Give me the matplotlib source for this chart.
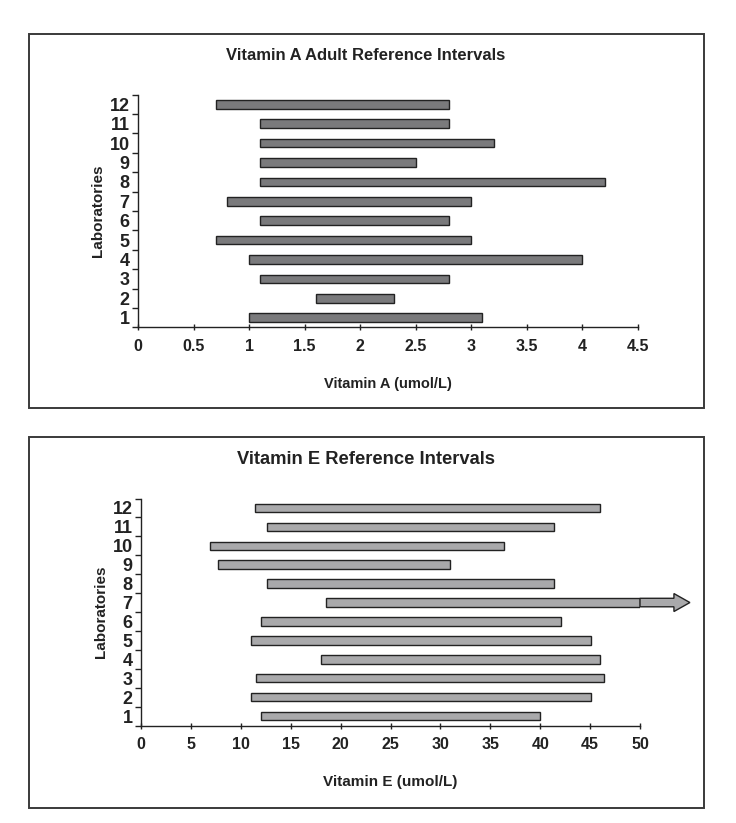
import matplotlib
matplotlib.use("Agg")
import matplotlib.pyplot as plt
from matplotlib.patches import Rectangle, FancyArrow

plt.rcParams['font.family'] = ['Liberation Sans', 'DejaVu Sans']
plt.rcParams['font.weight'] = 'bold'

# laboratories 1..12
labs = list(range(1, 13))

# vitamin A adult reference intervals (umol/L)
vit_a_low = [1.0, 1.6, 1.1, 1.0, 0.7, 1.1, 0.8, 1.1, 1.1, 1.1, 1.1, 0.7]
vit_a_high = [3.1, 2.3, 2.8, 4.0, 3.0, 2.8, 3.0, 4.2, 2.5, 3.2, 2.8, 2.8]
vit_a_ticks = [0, 0.5, 1, 1.5, 2, 2.5, 3, 3.5, 4, 4.5]

# vitamin E reference intervals (umol/L); lab 7 has no upper limit shown
vit_e_low = [12.0, 11.0, 11.5, 18.0, 11.0, 12.0, 18.5, 12.6, 7.7, 6.9, 12.6, 11.4]
vit_e_high = [40.0, 45.1, 46.4, 46.0, 45.1, 42.1, 50.0, 41.4, 31.0, 36.4, 41.4, 46.0]
vit_e_open = [7]
vit_e_ticks = list(range(0, 55, 5))

W, H = 736, 823
fig = plt.figure(figsize=(W / 100, H / 100), dpi=100)


def panel_box(y0, y1):
    # outer frame around each chart, in pixel coords of the reference
    r = Rectangle((29 / W, 1 - y1 / H), (704 - 29) / W, (y1 - y0) / H,
                  transform=fig.transFigure, fill=False, ec='#3a3a3a', lw=1.4)
    fig.add_artist(r)


def range_chart(ax, low, high, ticks, xmax, color, title, xlabel, title_size, label_size):
    widths = [h - l for l, h in zip(low, high)]
    ax.barh(labs, widths, left=low, height=0.45, color=color,
            edgecolor='#222222', linewidth=1.0, zorder=3)
    ax.set_xlim(0, xmax)
    ax.set_ylim(0.5, 12.5)
    ax.set_xticks(ticks)
    ax.set_xticklabels([('%g' % t) for t in ticks], fontsize=11.5, fontweight='bold', color='#222222')
    ax.set_yticks(labs)
    ax.set_yticklabels([str(i) for i in labs], fontsize=13, fontweight='bold', color='#222222')
    ax.set_yticks([i + 0.5 for i in range(0, 13)], minor=True)
    ax.tick_params(axis='y', which='major', length=0, pad=6)
    ax.tick_params(axis='y', which='minor', length=4, width=1.0, color='#222222', direction='out')
    ax.tick_params(axis='x', length=5, width=1.0, color='#222222', direction='inout', pad=6)
    for s in ['top', 'right']:
        ax.spines[s].set_visible(False)
    for s in ['left', 'bottom']:
        ax.spines[s].set_color('#222222')
        ax.spines[s].set_linewidth(1.0)
    ax.set_xlabel(xlabel, fontsize=label_size, fontweight='bold', color='#222222', labelpad=16)
    ax.set_ylabel('Laboratories', fontsize=11, fontweight='bold', color='#222222', labelpad=3)
    ax.text(0.5, 0, title, transform=fig.transFigure, fontsize=title_size,
            fontweight='bold', color='#222222', ha='center', va='center')


# top chart: vitamin A
panel_box(34, 408)
ax1 = fig.add_axes([138 / W, 1 - 327.5 / H, 500 / W, 233 / H])
range_chart(ax1, vit_a_low, vit_a_high, vit_a_ticks, 4.5, '#7a7a7c',
            'Vitamin A Adult Reference Intervals', 'Vitamin A (umol/L)', 12, 10.5)
ax1.texts[-1].set_position((366 / W, 1 - 55 / H))

# bottom chart: vitamin E
panel_box(437, 808)
ax2 = fig.add_axes([141 / W, 1 - 725.5 / H, 499 / W, 227 / H])
range_chart(ax2, vit_e_low, vit_e_high, vit_e_ticks, 50, '#a9a9ab',
            'Vitamin E Reference Intervals', 'Vitamin E (umol/L)', 13.2, 11)
ax2.texts[-1].set_position((366 / W, 1 - 460 / H))

# open-ended interval drawn as an arrow past the axis end
for lab in vit_e_open:
    arr = FancyArrow(vit_e_high[lab - 1], lab, 5.0, 0, width=0.45,
                     head_width=0.95, head_length=1.6, length_includes_head=True,
                     fc='#a9a9ab', ec='#222222', lw=1.0, clip_on=False, zorder=4)
    ax2.add_patch(arr)

fig.savefig('out.png', dpi=100)
